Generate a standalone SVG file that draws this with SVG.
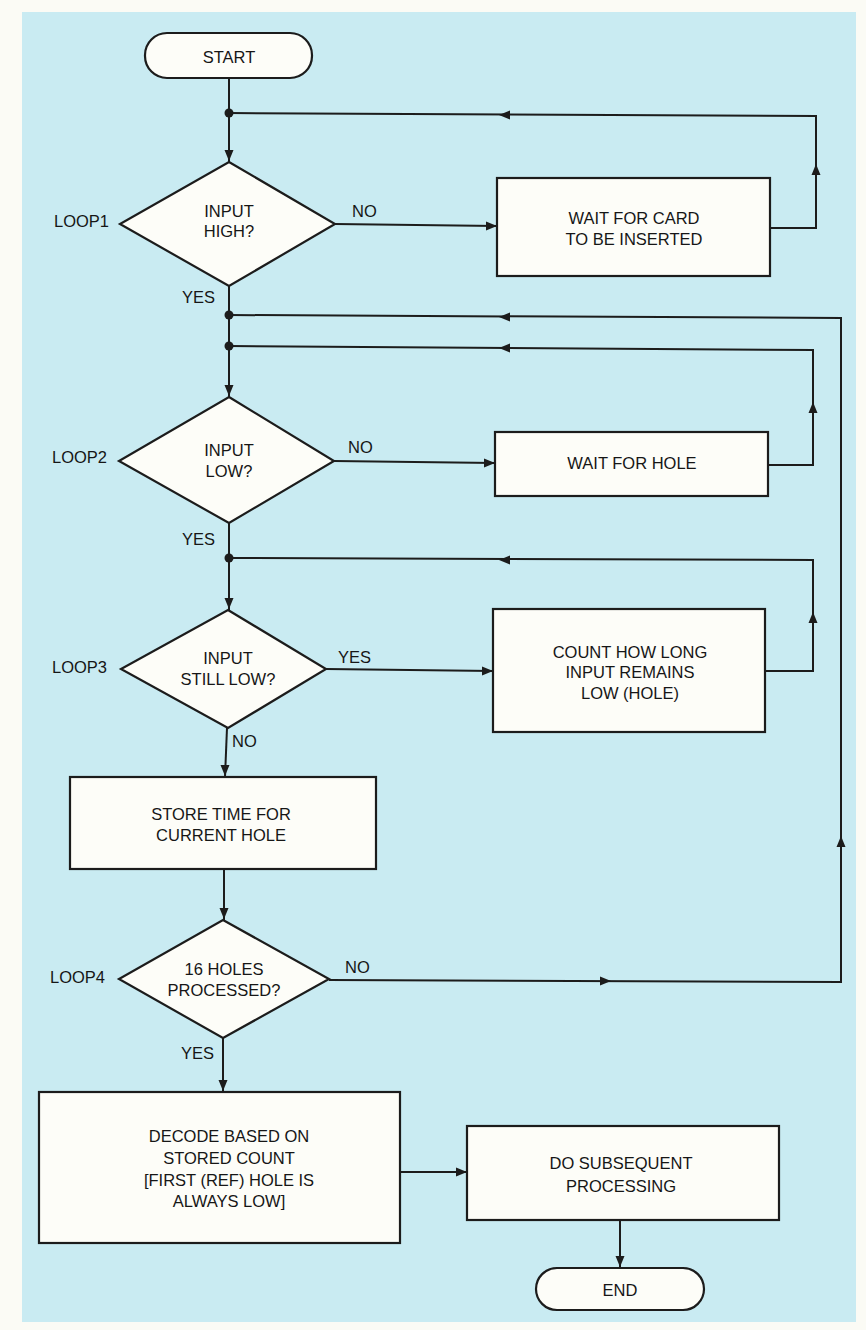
<svg xmlns="http://www.w3.org/2000/svg" xmlns:xlink="http://www.w3.org/1999/xlink" width="866" height="1330" viewBox="0 0 866 1330">
<style>
.n{fill:#fdfdf8;stroke:#1c1c1c;stroke-width:2.2}
.c{fill:none;stroke:#1c1c1c;stroke-width:2}
.t{font-family:"Liberation Sans",Arial,sans-serif;font-size:16.5px;fill:#161616;text-anchor:middle}
.l{font-family:"Liberation Sans",Arial,sans-serif;font-size:16.5px;fill:#161616}
.a{fill:#1c1c1c}
</style>
<defs>
<path id="ah" d="M0,0 L-11,-4.5 L-11,4.5 Z"/>
</defs>
<rect x="0" y="0" width="866" height="1330" fill="#fbfbf5"/>
<rect x="22" y="12" width="834" height="1310" fill="#c9ebf2"/>

<g id="connectors">
<path class="c" d="M229,78 V162"/>
<path class="c" d="M335,224 L497,226"/>
<path class="c" d="M770,228 H816 V116 L229,113"/>
<path class="c" d="M229,286 V397"/>
<path class="c" d="M329,980 L841,982 V318 L229,315"/>
<path class="c" d="M334,461 L495,463"/>
<path class="c" d="M768,465 H813 V350 L229,346"/>
<path class="c" d="M229,523 V610"/>
<path class="c" d="M326,669 L493,671"/>
<path class="c" d="M765,671 H813 V560 L229,558"/>
<path class="c" d="M227,728 L225,777"/>
<path class="c" d="M224,869 V920"/>
<path class="c" d="M223,1038 V1092"/>
<path class="c" d="M400,1172 H467"/>
<path class="c" d="M620,1220 V1268"/>
<circle class="a" cx="229" cy="113" r="4.5"/>
<circle class="a" cx="229" cy="315" r="4.5"/>
<circle class="a" cx="229" cy="346" r="4.5"/>
<circle class="a" cx="229" cy="558" r="4.5"/>
<use href="#ah" class="a" transform="translate(229,161) rotate(90)"/>
<use href="#ah" class="a" transform="translate(497,226)"/>
<use href="#ah" class="a" transform="translate(816,164) rotate(-90)"/>
<use href="#ah" class="a" transform="translate(499,115) rotate(180)"/>
<use href="#ah" class="a" transform="translate(229,396) rotate(90)"/>
<use href="#ah" class="a" transform="translate(499,317) rotate(180)"/>
<use href="#ah" class="a" transform="translate(495,463)"/>
<use href="#ah" class="a" transform="translate(813,402) rotate(-90)"/>
<use href="#ah" class="a" transform="translate(499,348) rotate(180)"/>
<use href="#ah" class="a" transform="translate(229,609) rotate(90)"/>
<use href="#ah" class="a" transform="translate(493,671)"/>
<use href="#ah" class="a" transform="translate(813,612) rotate(-90)"/>
<use href="#ah" class="a" transform="translate(499,560) rotate(180)"/>
<use href="#ah" class="a" transform="translate(225,776) rotate(90)"/>
<use href="#ah" class="a" transform="translate(224,919) rotate(90)"/>
<use href="#ah" class="a" transform="translate(611,981)"/>
<use href="#ah" class="a" transform="translate(841,836) rotate(-90)"/>
<use href="#ah" class="a" transform="translate(223,1091) rotate(90)"/>
<use href="#ah" class="a" transform="translate(467,1172)"/>
<use href="#ah" class="a" transform="translate(620,1267) rotate(90)"/>
</g>

<g id="start">
<rect class="n" x="145" y="33" width="167" height="45" rx="22"/>
<text class="t" x="229" y="63">START</text>
</g>
<g id="loop1">
<path class="n" d="M229,162 L335,224 L229,286 L120,224 Z"/>
<text class="t" x="229" y="217">INPUT</text>
<text class="t" x="229" y="237">HIGH?</text>
<text class="l" x="54" y="227">LOOP1</text>
<text class="l" x="352" y="217">NO</text>
<text class="l" x="182" y="303">YES</text>
</g>
<g id="wait-card">
<rect class="n" x="497" y="178" width="273" height="98"/>
<text class="t" x="634" y="224">WAIT FOR CARD</text>
<text class="t" x="634" y="245">TO BE INSERTED</text>
</g>
<g id="loop2">
<path class="n" d="M229,397 L334,461 L229,523 L119,461 Z"/>
<text class="t" x="229" y="456">INPUT</text>
<text class="t" x="229" y="477">LOW?</text>
<text class="l" x="52" y="463">LOOP2</text>
<text class="l" x="348" y="453">NO</text>
<text class="l" x="182" y="545">YES</text>
</g>
<g id="wait-hole">
<rect class="n" x="495" y="432" width="273" height="64"/>
<text class="t" x="632" y="469">WAIT FOR HOLE</text>
</g>
<g id="loop3">
<path class="n" d="M228,610 L326,669 L228,728 L121,669 Z"/>
<text class="t" x="228" y="664">INPUT</text>
<text class="t" x="228" y="685">STILL LOW?</text>
<text class="l" x="52" y="673">LOOP3</text>
<text class="l" x="338" y="663">YES</text>
<text class="l" x="232" y="747">NO</text>
</g>
<g id="count">
<rect class="n" x="493" y="609" width="272" height="123"/>
<text class="t" x="630" y="658">COUNT HOW LONG</text>
<text class="t" x="630" y="678">INPUT REMAINS</text>
<text class="t" x="630" y="699">LOW (HOLE)</text>
</g>
<g id="store">
<rect class="n" x="70" y="777" width="306" height="92"/>
<text class="t" x="221" y="820">STORE TIME FOR</text>
<text class="t" x="221" y="841">CURRENT HOLE</text>
</g>
<g id="loop4">
<path class="n" d="M223,920 L329,979 L223,1038 L119,979 Z"/>
<text class="t" x="224" y="975">16 HOLES</text>
<text class="t" x="224" y="996">PROCESSED?</text>
<text class="l" x="50" y="983">LOOP4</text>
<text class="l" x="345" y="973">NO</text>
<text class="l" x="181" y="1059">YES</text>
</g>
<g id="decode">
<rect class="n" x="39" y="1092" width="361" height="151"/>
<text class="t" x="229" y="1142">DECODE BASED ON</text>
<text class="t" x="229" y="1164">STORED COUNT</text>
<text class="t" x="229" y="1186">[FIRST (REF) HOLE IS</text>
<text class="t" x="229" y="1207">ALWAYS LOW]</text>
</g>
<g id="subsequent">
<rect class="n" x="467" y="1126" width="312" height="94"/>
<text class="t" x="621" y="1169">DO SUBSEQUENT</text>
<text class="t" x="621" y="1192">PROCESSING</text>
</g>
<g id="end">
<rect class="n" x="536" y="1268" width="168" height="42" rx="21"/>
<text class="t" x="620" y="1296">END</text>
</g>
</svg>
